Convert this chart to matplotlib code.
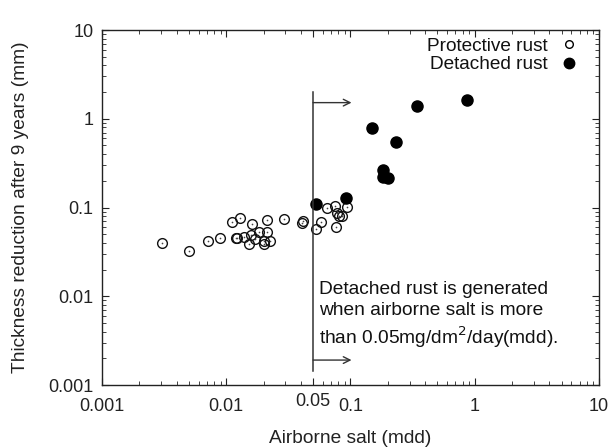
import matplotlib
matplotlib.use("Agg")
import matplotlib.pyplot as plt
from matplotlib.lines import Line2D
import matplotlib.transforms as mtransforms

plt.rcParams['font.family'] = ['Liberation Sans', 'DejaVu Sans']

# Protective rust (open circles)
prot_salt = [0.00302, 0.00504, 0.00709, 0.00896, 0.01113, 0.01297, 0.01198, 0.01227,
             0.01397, 0.0162, 0.0158, 0.01825, 0.02128, 0.02116, 0.01713, 0.01516,
             0.02013, 0.02249, 0.02024, 0.02916, 0.0405, 0.0417, 0.0531, 0.0579,
             0.0643, 0.0746, 0.0942, 0.0764, 0.0774, 0.0813, 0.0849]
prot_thick = [0.0401, 0.0326, 0.0423, 0.045, 0.0687, 0.0767, 0.0453, 0.0453,
              0.0462, 0.0657, 0.049, 0.0526, 0.0526, 0.0723, 0.0438, 0.0388,
              0.0423, 0.0416, 0.0388, 0.0742, 0.0664, 0.0699, 0.0568, 0.0687,
              0.0987, 0.104, 0.102, 0.0598, 0.086, 0.0802, 0.0802]

# Detached rust (filled circles)
det_salt = [0.0525, 0.0915, 0.1498, 0.2324, 0.343, 0.871, 0.1836, 0.1816, 0.2015]
det_thick = [0.1095, 0.127, 0.78, 0.547, 1.40, 1.64, 0.2646, 0.2223, 0.2133]

threshold = 0.05
xtick_vals = [0.001, 0.01, 0.05, 0.1, 1, 10]
xtick_labels = ['0.001', '0.01', '0.05', '0.1', '1', '10']
ytick_vals = [0.001, 0.01, 0.1, 1, 10]
ytick_labels = ['0.001', '0.01', '0.1', '1', '10']

fig = plt.figure(figsize=(6.13, 4.48), dpi=100)
ax = fig.add_axes([0.1664, 0.1406, 0.8106, 0.7924])
ax.set_xscale('log')
ax.set_yscale('log')
ax.set_xlim(0.001, 10)
ax.set_ylim(0.001, 10)

ax.plot(prot_salt, prot_thick, linestyle='none', marker='o', markersize=7,
        markerfacecolor='none', markeredgecolor='#111111', markeredgewidth=1.0)
ax.plot(prot_salt, prot_thick, linestyle='none', marker='o', markersize=1.2,
        markerfacecolor='#444444', markeredgecolor='none')
ax.plot(det_salt, det_thick, linestyle='none', marker='o', markersize=8,
        markerfacecolor='black', markeredgecolor='black')

# threshold line with arrows
ax.plot([threshold, threshold], [0.00144, 1.99], color='#333333', lw=1.1)
for yy in [1.52, 0.00191]:
    ax.annotate('', xy=(0.102, yy), xytext=(threshold, yy),
                arrowprops=dict(arrowstyle='->', color='#333333', lw=1.0,
                                shrinkA=0, shrinkB=0, mutation_scale=12))

ax.text(0.056, 0.0061,
        'Detached rust is generated\nwhen airborne salt is more\nthan 0.05mg/dm$^{2}$/day(mdd).',
        fontsize=13.8, color='#111111', ha='left', va='center', linespacing=1.3)

ax.set_xticks(xtick_vals)
ax.set_xticklabels(xtick_labels)
ax.set_yticks(ytick_vals)
ax.set_yticklabels(ytick_labels)
ax.tick_params(which='both', direction='in', top=True, right=True, labelsize=13,
               colors='#222222')
ax.tick_params(which='major', length=5)
ax.tick_params(which='minor', length=3)
ax.tick_params(axis='x', which='major', pad=9)
ax.tick_params(axis='y', which='major', pad=6)

# raise the 0.05 label slightly
for lbl in ax.get_xticklabels():
    if lbl.get_text() == '0.05':
        lbl.set_transform(lbl.get_transform() +
                          mtransforms.ScaledTranslation(0, 3/72, fig.dpi_scale_trans))

for s in ax.spines.values():
    s.set_color('#222222')
    s.set_linewidth(1.0)

ax.set_xlabel('Airborne salt (mdd)', fontsize=13.8, color='#222222', labelpad=11)
ax.set_ylabel('Thickness reduction after 9 years (mm)', fontsize=13.8, color='#222222', labelpad=14)

handles = [
    Line2D([], [], linestyle='none', marker='o', markersize=5.5, markerfacecolor='none',
           markeredgecolor='black', markeredgewidth=1.0),
    Line2D([], [], linestyle='none', marker='o', markersize=7.5, markerfacecolor='black',
           markeredgecolor='black'),
]
leg = ax.legend(handles, ['Protective rust', 'Detached rust'], loc='upper right',
                bbox_to_anchor=(1 - 13 / 497, 1.0),
                frameon=False, markerfirst=False, fontsize=13.7, handlelength=1.0,
                handletextpad=0.6, labelspacing=0.05, borderaxespad=0.1,
                borderpad=0.3)
for t in leg.get_texts():
    t.set_ha('right')
    t.set_color('#111111')

fig.savefig('out.png', dpi=100)
